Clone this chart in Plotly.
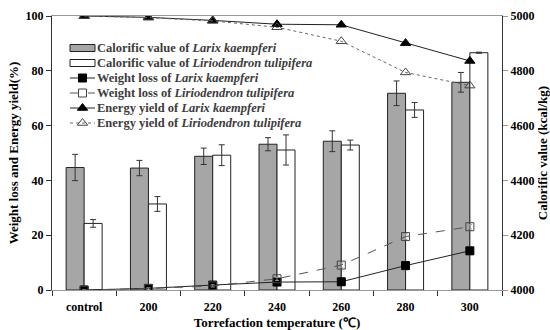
import plotly.graph_objects as go

categories = ["control", "200", "220", "240", "260", "280", "300"]

# Calorific value (kcal/kg)
cal_larix = [4447, 4445, 4488, 4532, 4543, 4718, 4758]
cal_larix_err = [48, 28, 30, 24, 38, 45, 36]
cal_lirio = [4243, 4314, 4492, 4511, 4529, 4657, 4866]
cal_lirio_err = [14, 27, 38, 55, 18, 27, 2]

# Weight loss (%)
wl_larix = [0, 0.6, 1.8, 2.9, 3.0, 8.9, 14.3]
wl_larix_err = [0, 0.3, 0.4, 0.6, 1.2, 1.6, 1.4]
wl_lirio = [0, 0.5, 1.5, 4.1, 9.1, 19.5, 23.1]
wl_lirio_err = [0, 0.3, 0.4, 0.6, 0.8, 1.0, 0.8]

# Energy yield (%)
ey_larix = [100, 99.5, 98.4, 97.0, 96.8, 90.1, 83.6]
ey_lirio = [100, 99.4, 98.2, 95.9, 90.8, 79.4, 74.6]

legend_labels = [
    ("Calorific value of ", "Larix kaempferi"),
    ("Calorific value of ", "Liriodendron tulipifera"),
    ("Weight loss of ", "Larix kaempferi"),
    ("Weight loss of ", "Liriodendron tulipifera"),
    ("Energy yield of ", "Larix kaempferi"),
    ("Energy yield of ", "Liriodendron tulipifera"),
]
names = ["%s%s" % p for p in legend_labels]

FONT = "Liberation Serif"
GRAY_BAR = "#a6a6a6"

# style per series: (line color, dash, marker symbol, marker color)
styles = [
    None, None,
    ("#222222", "solid", "square", "black"),
    ("#555555", "dash", "square-open", "#444444"),
    ("#222222", "solid", "triangle-up", "black"),
    ("#666666", "dot", "triangle-up-open", "#444444"),
]

fig = go.Figure()

fig.add_trace(go.Bar(
    x=categories, y=[v - 4000 for v in cal_larix], base=4000, name=names[0],
    marker=dict(color=GRAY_BAR, line=dict(color="#222222", width=1)),
    error_y=dict(type="data", array=cal_larix_err, color="#333333", thickness=1, width=3),
    yaxis="y", offsetgroup="a", showlegend=False,
))
fig.add_trace(go.Bar(
    x=categories, y=[v - 4000 for v in cal_lirio], base=4000, name=names[1],
    marker=dict(color="white", line=dict(color="#222222", width=1)),
    error_y=dict(type="data", array=cal_lirio_err, color="#333333", thickness=1, width=3),
    yaxis="y", offsetgroup="b", showlegend=False,
))

series = [(wl_larix, wl_larix_err), (wl_lirio, wl_lirio_err), (ey_larix, None), (ey_lirio, None)]
for i, (vals, err) in enumerate(series):
    lc, dash, sym, mc = styles[i + 2]
    size = 8 if "square" in sym else 9
    kw = {}
    if err is not None:
        kw["error_y"] = dict(type="data", array=err, color="#999999", thickness=1, width=2)
    fig.add_trace(go.Scatter(
        x=categories, y=vals, name=names[i + 2], mode="lines+markers", yaxis="y2",
        line=dict(color=lc, width=1, dash=dash),
        marker=dict(symbol=sym, size=size, color=mc, line=dict(width=1, color=mc)),
        showlegend=False, **kw,
    ))

# ---- manual compact legend on a pixel-coordinate overlay axis ----
row_y = [48, 63, 78, 93, 108, 123]
sx0, sx1, tx = 70, 95, 96
shapes = []
annotations = []
for i, (plain, ital) in enumerate(legend_labels):
    y = row_y[i]
    if i < 2:
        shapes.append(dict(type="rect", xref="x2", yref="y3", x0=sx0, x1=sx1,
                           y0=y - 3.5, y1=y + 3.5, line=dict(color="#222222", width=1),
                           fillcolor=GRAY_BAR if i == 0 else "white", layer="above"))
    else:
        lc, dash, sym, mc = styles[i]
        fig.add_trace(go.Scatter(
            x=[sx0, (sx0 + sx1) / 2, sx1], y=[y, y, y], xaxis="x2", yaxis="y3",
            mode="lines", line=dict(color=lc, width=1, dash=dash),
            showlegend=False, hoverinfo="skip",
        ))
        fig.add_trace(go.Scatter(
            x=[(sx0 + sx1) / 2], y=[y], xaxis="x2", yaxis="y3", mode="markers",
            marker=dict(symbol=sym, size=8 if "square" in sym else 9, color=mc,
                        line=dict(width=1, color=mc)),
            showlegend=False, hoverinfo="skip",
        ))
    annotations.append(dict(
        xref="x2", yref="y3", x=tx, y=y, xanchor="left", yanchor="middle",
        showarrow=False, text="%s<i>%s</i>" % (plain, ital), borderpad=0,
        font=dict(family=FONT, size=12.5, color="#3c3c3c", weight="bold"),
    ))

tickfont = dict(family=FONT, size=12, color="black", weight="bold")
titlefont = dict(family=FONT, size=13, color="black", weight="bold")

fig.update_layout(
    width=550, height=330,
    margin=dict(l=52, r=48, t=16, b=40),
    paper_bgcolor="white", plot_bgcolor="white",
    barmode="group", bargap=0.44, bargroupgap=0,
    font=dict(family=FONT, color="black"),
    showlegend=False,
    shapes=shapes, annotations=annotations,
    xaxis=dict(
        type="category", tickson="boundaries", ticks="outside", ticklen=5,
        tickcolor="#333333", showline=True, linecolor="#999999", linewidth=1,
        mirror=True, showgrid=False, tickfont=tickfont, ticklabelstandoff=6,
        title=dict(text="Torrefaction temperature (℃)", font=titlefont, standoff=8),
        range=[-0.5, 6.5], automargin=False,
    ),
    xaxis2=dict(overlaying="x", range=[52, 502], visible=False, fixedrange=True),
    yaxis=dict(
        side="right", range=[4000, 5000], tickvals=[4000, 4200, 4400, 4600, 4800, 5000],
        ticks="outside", ticklen=5, tickcolor="#999999",
        showline=True, linecolor="#333333", linewidth=1, showgrid=False, zeroline=False,
        tickfont=tickfont, automargin=False,
        title=dict(text="Calorific value (kcal/kg)", font=titlefont, standoff=4),
    ),
    yaxis2=dict(
        overlaying="y", side="left", range=[0, 100], tickvals=[0, 20, 40, 60, 80, 100],
        ticks="outside", ticklen=5, tickcolor="#333333",
        showline=True, linecolor="#333333", linewidth=1, showgrid=False, zeroline=False,
        tickfont=tickfont, automargin=False,
        title=dict(text="Weight loss and Energy yield(%)", font=titlefont, standoff=4),
    ),
    yaxis3=dict(overlaying="y", range=[290, 16], visible=False, fixedrange=True),
)

fig.write_html("out.html")
